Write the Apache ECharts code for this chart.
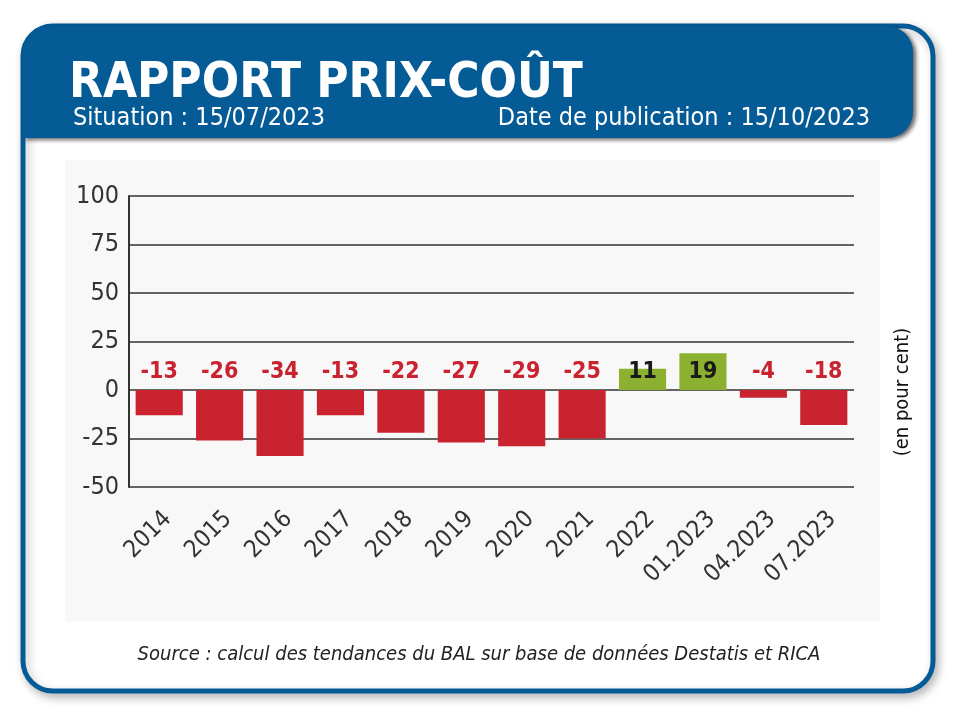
<!DOCTYPE html>
<html>
<head>
<meta charset="utf-8">
<script src="https://cdn.jsdelivr.net/npm/echarts@6/dist/echarts.min.js"></script>
<style>
  html, body { margin: 0; padding: 0; background: #fff; }
  #main { width: 960px; height: 719px; }
</style>
</head>
<body>
<div id="main"></div>
<script>
var categories = ['2014', '2015', '2016', '2017', '2018', '2019', '2020', '2021', '2022', '01.2023', '04.2023', '07.2023'];
var values = [-13, -26, -34, -13, -22, -27, -29, -25, 11, 19, -4, -18];
var yTicks = [-50, -25, 0, 25, 50, 75, 100];

var RED = '#c8232f';
var GREEN = '#8cb030';
var BLUE = '#045b96';
var FONT = 'DejaVu Sans Condensed';
var labelRow = 9.5; // ligne des étiquettes, juste au-dessus de zéro

var myChart = echarts.init(document.getElementById('main'));

var option = {
  backgroundColor: '#fff',
  animation: false,
  graphic: [
    // cadre arrondi
    {
      type: 'rect', z: 0,
      shape: { x: 23, y: 26, width: 910, height: 665, r: 30 },
      style: { fill: '#fff', stroke: BLUE, lineWidth: 5,
               shadowBlur: 10, shadowOffsetX: 3, shadowOffsetY: 4, shadowColor: 'rgba(0,0,0,0.25)' }
    },
    // bandeau bleu
    {
      type: 'rect', z: 1,
      shape: { x: 23, y: 26, width: 890, height: 112, r: [30, 26, 26, 0] },
      style: { fill: BLUE, shadowBlur: 4, shadowOffsetX: 3, shadowOffsetY: 2, shadowColor: 'rgba(0,0,0,0.6)' }
    },
    {
      type: 'rect', z: 1,
      shape: { x: 23, y: 100, width: 40, height: 38 },
      style: { fill: BLUE }
    },
    // fond gris clair du graphique
    {
      type: 'rect', z: 1,
      shape: { x: 65, y: 160, width: 815, height: 462 },
      style: { fill: '#f8f8f8' }
    },
    {
      type: 'text', z: 5, left: 69, top: 60,
      style: { text: 'RAPPORT PRIX-COÛT', fill: '#fff', font: 'bold 49px "' + FONT + '"' }
    },
    {
      type: 'text', z: 5, left: 73, top: 106,
      style: { text: 'Situation : 15/07/2023', fill: '#fff', font: '25px "' + FONT + '"' }
    },
    {
      type: 'text', z: 5, right: 90, top: 106,
      style: { text: 'Date de publication : 15/10/2023', fill: '#fff', font: '25px "' + FONT + '"', textAlign: 'right' }
    },
    {
      type: 'text', z: 5, x: 903, y: 392, rotation: Math.PI / 2,
      style: { text: '(en pour cent)', fill: '#111', font: '20px "' + FONT + '"', textAlign: 'center', textVerticalAlign: 'middle' }
    },
    {
      type: 'text', z: 5, x: 479, y: 655,
      style: { text: 'Source : calcul des tendances du BAL sur base de données Destatis et RICA', fill: '#222',
               font: 'italic 20px "' + FONT + '"', textAlign: 'center', textVerticalAlign: 'middle' }
    }
  ],
  grid: { left: 129, right: 106, top: 196, bottom: 232 },
  xAxis: {
    type: 'category',
    z: 2,
    data: categories,
    position: 'bottom',
    axisLine: { show: false, onZero: false },
    axisTick: { show: false },
    axisLabel: { rotate: 45, margin: 20, fontSize: 24, color: '#333', fontFamily: FONT, interval: 0,
                 verticalAlign: 'top' }
  },
  yAxis: {
    type: 'value',
    z: 2,
    min: -50, max: 100, interval: 25,
    axisLine: { show: true, lineStyle: { color: '#333', width: 2 } },
    axisTick: { show: false },
    axisLabel: { fontSize: 25, color: '#333', fontFamily: FONT, margin: 10,
                 formatter: function (v) { return yTicks.indexOf(v) >= 0 ? String(v) : ''; } },
    splitLine: { lineStyle: { color: '#333', width: 1.5 } }
  },
  series: [
    {
      type: 'bar',
      z: 3,
      barCategoryGap: '22%',
      data: values.map(function (v) {
        return { value: v, itemStyle: { color: v < 0 ? RED : GREEN } };
      })
    },
    {
      type: 'scatter',
      z: 4,
      symbolSize: 0,
      silent: true,
      itemStyle: { color: 'transparent', opacity: 1 },
      label: {
        show: true,
        position: 'inside',
        fontSize: 23,
        fontWeight: 'bold',
        fontFamily: FONT,
        formatter: function (p) { return String(p.value[2]); }
      },
      // couleur des étiquettes : rouge si négatif, noir sinon
      data: values.map(function (v, i) {
        return { value: [i, labelRow, v], label: { color: v < 0 ? RED : '#1a1a1a' } };
      })
    }
  ]
};

myChart.setOption(option);
</script>
</body>
</html>
